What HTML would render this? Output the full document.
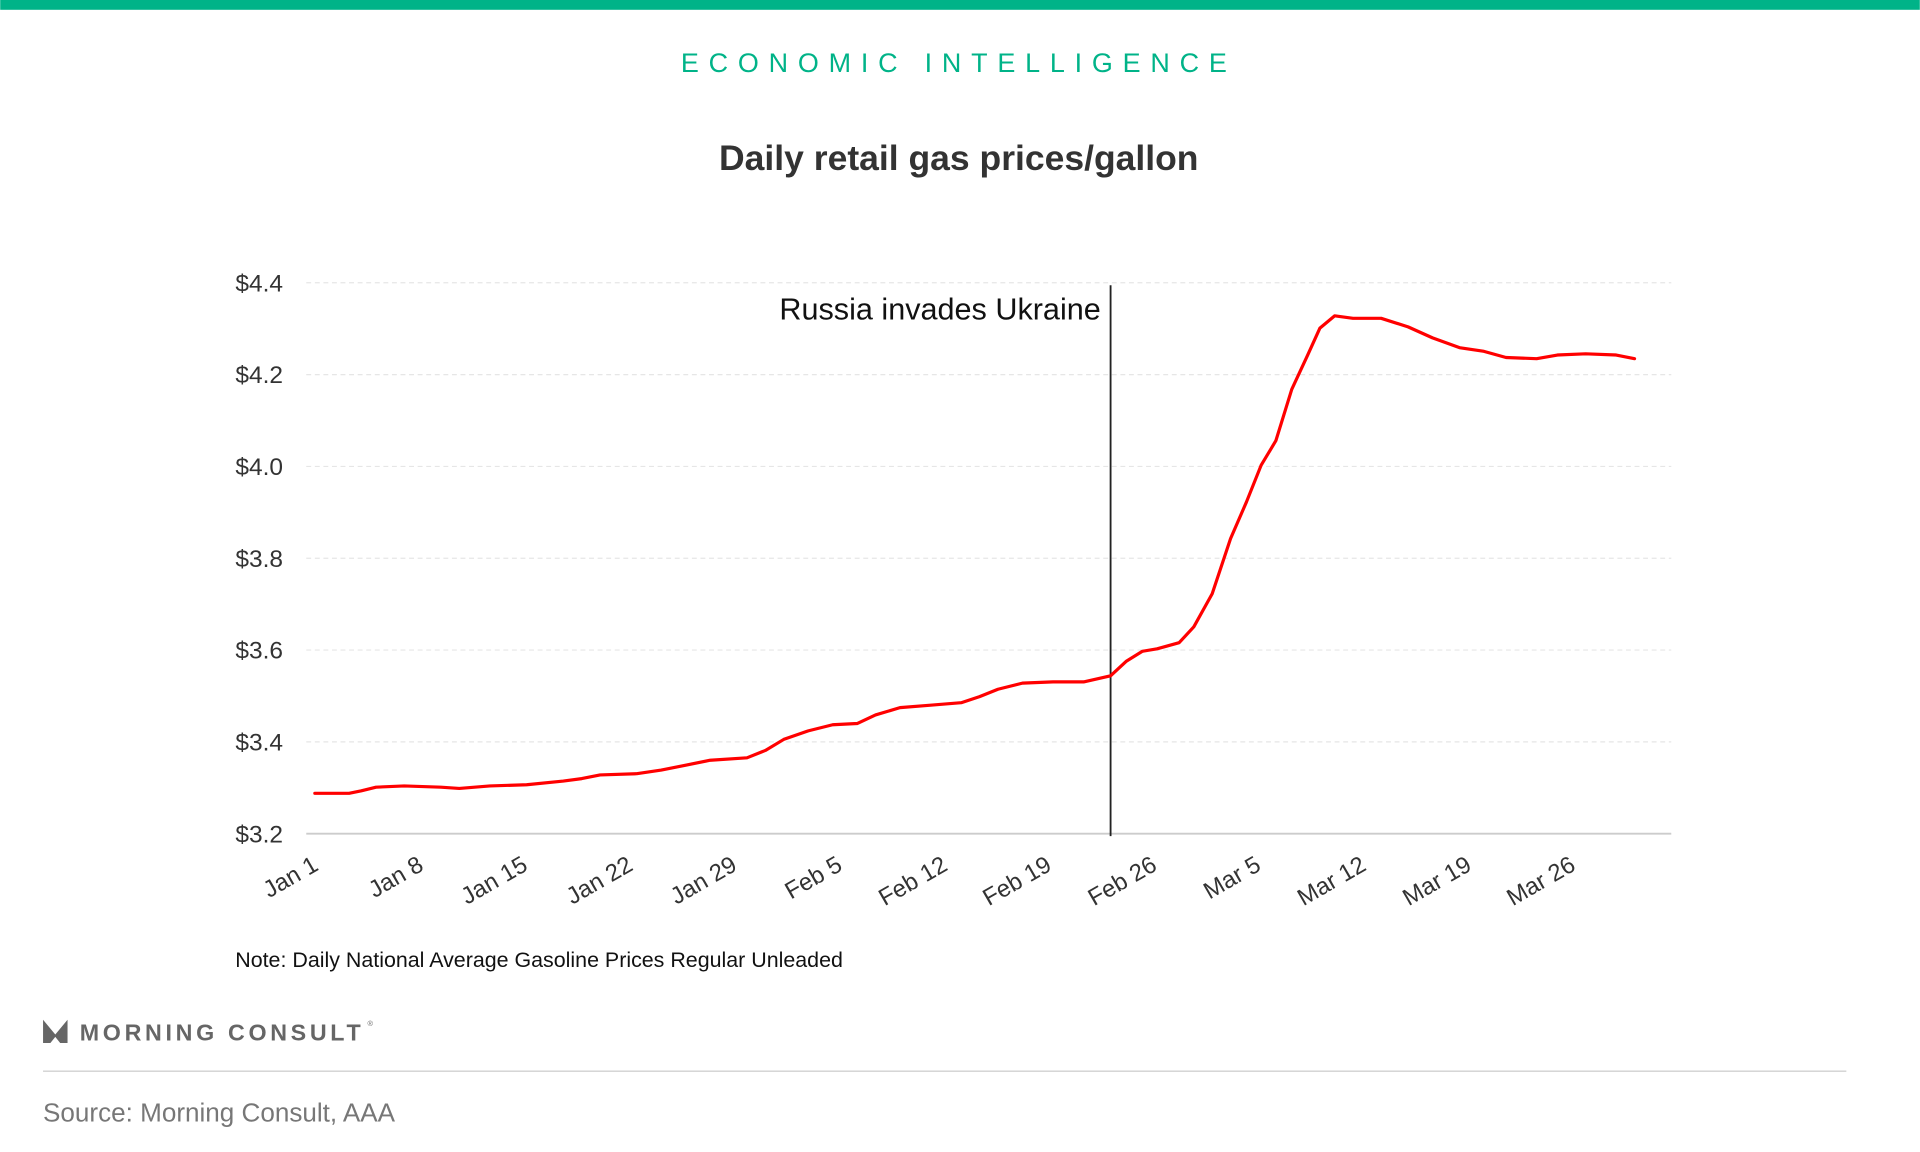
<!DOCTYPE html>
<html><head><meta charset="utf-8"><style>html,body{margin:0;padding:0;background:#fff}svg{display:block}</style></head>
<body>
<svg width="1920" height="1152" viewBox="0 0 1568 941" xmlns="http://www.w3.org/2000/svg" font-family="Liberation Sans, sans-serif">
<rect x="0" y="0" width="1568" height="8" fill="#00b388"/>
<text x="783" y="59" text-anchor="middle" font-size="22" letter-spacing="8" fill="#00b388">ECONOMIC INTELLIGENCE</text>
<text x="783" y="139" text-anchor="middle" font-size="29" font-weight="bold" fill="#333">Daily retail gas prices/gallon</text>
<g stroke="#e6e6e6" stroke-dasharray="4,3" stroke-width="1">
<line x1="250" x2="1365" y1="231" y2="231"/><line x1="250" x2="1365" y1="306" y2="306"/>
<line x1="250" x2="1365" y1="381" y2="381"/><line x1="250" x2="1365" y1="456" y2="456"/>
<line x1="250" x2="1365" y1="531" y2="531"/><line x1="250" x2="1365" y1="606" y2="606"/>
</g>
<line x1="250" x2="1365" y1="681" y2="681" stroke="#ccc" stroke-width="1.5"/>
<g font-size="20" fill="#333" text-anchor="end">
<text x="231" y="238">$4.4</text><text x="231" y="313">$4.2</text><text x="231" y="388">$4.0</text>
<text x="231" y="463">$3.8</text><text x="231" y="538">$3.6</text><text x="231" y="613">$3.4</text><text x="231" y="688">$3.2</text>
</g>
<g font-size="19.5" fill="#333" text-anchor="end">
<text transform="translate(261,710) rotate(-30)">Jan 1</text>
<text transform="translate(347,710) rotate(-30)">Jan 8</text>
<text transform="translate(432,710) rotate(-30)">Jan 15</text>
<text transform="translate(518,710) rotate(-30)">Jan 22</text>
<text transform="translate(603,710) rotate(-30)">Jan 29</text>
<text transform="translate(689,710) rotate(-30)">Feb 5</text>
<text transform="translate(775,710) rotate(-30)">Feb 12</text>
<text transform="translate(860,710) rotate(-30)">Feb 19</text>
<text transform="translate(946,710) rotate(-30)">Feb 26</text>
<text transform="translate(1031,710) rotate(-30)">Mar 5</text>
<text transform="translate(1117,710) rotate(-30)">Mar 12</text>
<text transform="translate(1203,710) rotate(-30)">Mar 19</text>
<text transform="translate(1288,710) rotate(-30)">Mar 26</text>
</g>
<line x1="907" x2="907" y1="233" y2="683" stroke="#222" stroke-width="1.5"/>
<text x="899" y="261" text-anchor="end" font-size="25" fill="#111">Russia invades Ukraine</text>
<polyline fill="none" stroke="#ff0000" stroke-width="2.6" stroke-linejoin="round" stroke-linecap="round" points="257,648 285,648 295,646 307,643 330,642 360,643 375,644 400,642 430,641 460,638 475,636 490,633 520,632 540,629 560,625 580,621 610,619 625,613 640,604 660,597 680,592 700,591 715,584 735,578 760,576 785,574 800,569 815,563 835,558 860,557 885,557 907,552 920,540 933,532 945,530 963,525 975,512 990,485 1005,440 1018,410 1030,380 1042,360 1055,318 1068,290 1078,268 1090,258 1105,260 1128,260 1150,267 1170,276 1192,284 1212,287 1230,292 1255,293 1272,290 1295,289 1320,290 1335,293"/>
<text x="192" y="790" font-size="17.5" fill="#111">Note: Daily National Average Gasoline Prices Regular Unleaded</text>
<path d="M35,833 L45,845 L55,833 L55,852 L49,852 L45,847 L41,852 L35,852 Z" fill="#666"/>
<text x="65" y="850" font-size="19" font-weight="bold" fill="#666" letter-spacing="3">MORNING CONSULT</text>
<text x="300" y="838" font-size="6" fill="#666">®</text>
<line x1="35" x2="1508" y1="875" y2="875" stroke="#d0d0d0" stroke-width="1.2"/>
<text x="35" y="916" font-size="21.3" fill="#777">Source: Morning Consult, AAA</text>
</svg>
</body></html>
